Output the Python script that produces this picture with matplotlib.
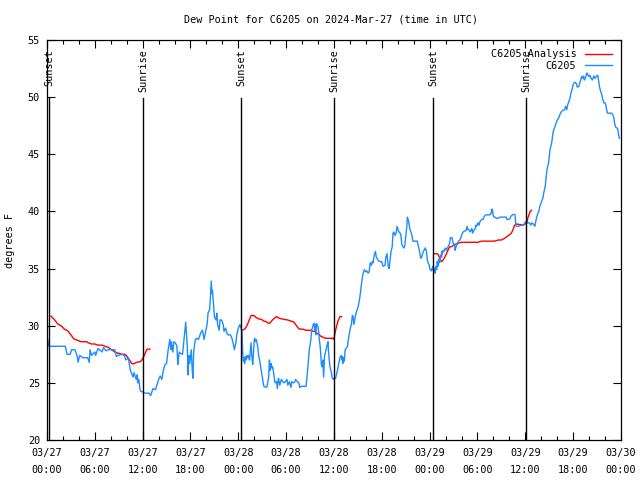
import numpy as np
import pandas as pd
import matplotlib
matplotlib.use("Agg")
import matplotlib.pyplot as plt
import matplotlib.dates as mdates

START = pd.Timestamp("2024-03-27 00:00")

# observed dew point (hours after start, deg F)
obs_hours = [0.1, 0.2, 2.3, 2.5, 2.9, 3.1, 3.5, 3.8, 3.9, 4.1, 4.5, 5.1, 5.3, 5.4, 5.6, 6.0, 6.1, 6.4, 6.6, 6.9,
             7.1, 7.4, 7.7, 8.5, 8.7, 8.9, 9.4, 9.7, 9.9, 10.2, 10.4, 10.5, 10.8, 10.9, 11.2, 11.3, 11.4, 11.5, 11.7, 12.0,
             12.3, 12.8, 13.0, 13.3, 13.6, 14.0, 14.2, 14.4, 14.6, 14.8, 15.0, 15.2, 15.3, 15.4, 15.55, 15.6, 15.8, 15.9, 16.1, 16.3,
             16.4, 16.5, 16.6, 16.7, 17.0, 17.1, 17.3, 17.4, 17.5, 17.6, 17.7, 17.8, 17.9, 18.1, 18.2, 18.3, 18.4, 18.6, 18.8, 19.0,
             19.3, 19.5, 19.65, 19.7, 19.9, 20.1, 20.2, 20.4, 20.5, 20.6, 20.7, 20.75, 20.9, 21.0, 21.2, 21.3, 21.4, 21.6, 21.7, 21.9,
             22.1, 22.2, 22.4, 22.6, 22.7, 23.0, 23.2, 23.4, 23.5, 23.7, 23.8, 24.0, 24.2, 24.46, 24.55, 24.63, 24.71, 24.79, 24.88, 25.0,
             25.1, 25.2, 25.3, 25.4, 25.55, 25.6, 25.7, 25.8, 25.9, 26.0, 26.05, 26.1, 26.25, 26.4, 26.55, 26.7, 26.8, 27.0, 27.1, 27.2,
             27.5, 27.6, 27.8, 27.9, 28.0, 28.1, 28.2, 28.3, 28.4, 28.5, 28.6, 28.8, 28.9, 29.0, 29.05, 29.2, 29.4, 29.6, 29.7, 29.9,
             30.1, 30.2, 30.4, 30.6, 30.7, 30.9, 31.1, 31.2, 31.4, 31.6, 31.7, 31.9, 32.5, 32.65, 32.8, 32.9, 33.1, 33.2, 33.4, 33.5,
             33.6, 33.65, 33.7, 33.8, 34.0, 34.1, 34.15, 34.25, 34.3, 34.4, 34.5, 34.6, 34.7, 34.75, 34.8, 35.0, 35.2, 35.25, 35.3, 35.4,
             35.5, 35.7, 35.75, 35.9, 36.0, 36.2, 36.3, 36.5, 36.6, 36.75, 36.9, 37.0, 37.05, 37.1, 37.2, 37.3, 37.4, 37.5, 37.7, 37.8,
             38.0, 38.2, 38.3, 38.4, 38.5, 38.7, 38.8, 38.9, 39.05, 39.2, 39.3, 39.4, 39.55, 39.7, 39.8, 40.0, 40.1, 40.3, 40.4, 40.55,
             40.7, 40.8, 40.9, 41.05, 41.2, 41.3, 41.4, 41.55, 41.8, 42.0, 42.1, 42.2, 42.4, 42.5, 42.65, 42.8, 42.9, 43.0, 43.15, 43.3,
             43.4, 43.5, 43.65, 43.8, 43.9, 44.0, 44.15, 44.3, 44.4, 44.5, 44.65, 44.8, 44.9, 45.0, 45.15, 45.2, 45.3, 45.4, 45.5, 45.7,
             45.8, 45.9, 46.45, 46.5, 46.7, 46.8, 46.9, 47.0, 47.2, 47.3, 47.45, 47.6, 47.7, 47.8, 47.95, 48.0, 48.2, 48.4, 48.5, 48.6,
             48.7, 48.75, 48.9, 48.95, 49.05, 49.1, 49.25, 49.4, 49.5, 49.55, 49.6, 49.7, 49.8, 49.95, 50.1, 50.3, 50.5, 50.6, 50.8, 50.95,
             51.1, 51.2, 51.3, 51.5, 51.6, 51.8, 51.95, 52.1, 52.2, 52.4, 52.55, 52.7, 52.8, 52.9, 53.1, 53.2, 53.3, 53.4, 53.6, 53.7,
             53.8, 53.9, 54.05, 54.2, 54.3, 54.4, 54.55, 54.7, 54.8, 55.0, 55.5, 55.65, 55.7, 55.8, 55.9, 55.95, 56.05, 56.2, 56.4, 56.6,
             56.8, 57.0, 57.2, 57.4, 57.6, 57.7, 57.9, 58.1, 58.2, 58.4, 58.6, 58.7, 58.75, 58.8, 58.9, 59.2, 59.5, 59.9, 60.0, 60.2,
             60.3, 60.5, 60.7, 60.8, 61.0, 61.2, 61.3, 61.5, 61.7, 61.8, 62.0, 62.2, 62.3, 62.5, 62.6, 62.7, 62.9, 63.0, 63.1, 63.3,
             63.4, 63.5, 63.7, 63.85, 64.0, 64.2, 64.35, 64.5, 64.6, 64.9, 65.05, 65.2, 65.3, 65.4, 65.6, 65.7, 65.9, 66.0, 66.2, 66.4,
             66.5, 66.7, 66.8, 66.95, 67.05, 67.2, 67.3, 67.4, 67.55, 67.7, 67.75, 67.9, 68.0, 68.1, 68.25, 68.4, 68.5, 68.6, 68.75, 68.9,
             69.0, 69.1, 69.2, 69.3, 69.45, 69.6, 69.7, 69.85, 70.0, 70.1, 70.2, 70.3, 70.8, 70.95, 71.1, 71.2, 71.3, 71.5, 71.6, 71.7,
             71.8]
obs_dewpt = [28.8, 28.2, 28.2, 27.5, 27.5, 27.9, 27.9, 27.3, 26.8, 27.4, 27.2, 27.2, 26.8, 27.9, 27.4, 27.7, 27.4, 28.0, 27.9, 27.7,
             28.1, 27.8, 27.9, 27.9, 27.3, 27.4, 27.5, 27.4, 27.0, 27.2, 26.3, 26.0, 25.5, 25.9, 25.3, 25.7, 25.0, 25.3, 24.3, 24.2,
             24.1, 24.1, 23.9, 24.5, 24.4, 25.3, 25.6, 25.3, 26.1, 26.6, 26.7, 27.9, 28.3, 28.8, 27.9, 28.6, 27.7, 28.6, 28.5, 28.2,
             26.6, 27.2, 27.7, 27.6, 27.5, 28.2, 29.6, 30.3, 29.3, 28.2, 25.7, 27.4, 26.7, 27.9, 26.3, 25.4, 27.7, 28.8, 28.9, 28.8,
             29.4, 29.6, 29.0, 28.8, 29.5, 30.2, 31.1, 31.4, 32.5, 33.9, 32.8, 33.1, 31.8, 30.8, 30.5, 31.1, 30.1, 29.6, 30.5, 30.5,
             30.1, 29.5, 29.8, 29.3, 29.2, 29.2, 28.9, 28.3, 27.9, 28.5, 29.2, 29.8, 30.1, 29.5, 27.6, 26.9, 27.2, 26.7, 27.3, 27.0,
             27.4, 27.2, 27.4, 27.0, 28.2, 28.5, 27.3, 26.6, 27.6, 28.8, 28.9, 28.6, 28.8, 28.3, 27.4, 26.9, 26.4, 25.5, 25.1, 24.7,
             24.6, 24.7, 25.5, 27.0, 26.1, 26.7, 26.3, 26.4, 26.0, 25.5, 25.0, 25.1, 24.5, 25.3, 25.4, 24.8, 25.3, 25.1, 25.0, 25.1,
             25.3, 24.8, 25.1, 24.6, 25.1, 25.0, 25.1, 25.3, 25.1, 25.0, 24.6, 24.7, 24.7, 25.8, 27.0, 27.9, 28.8, 29.6, 30.1, 30.2,
             29.6, 30.1, 29.2, 30.2, 29.9, 29.3, 28.8, 28.3, 27.9, 26.7, 26.4, 27.0, 25.5, 26.4, 27.3, 27.9, 28.5, 28.6, 27.9, 27.0,
             26.4, 25.8, 25.5, 25.3, 25.4, 25.4, 25.7, 26.3, 26.7, 27.2, 27.4, 27.0, 27.3, 26.7, 27.2, 26.9, 27.9, 28.0, 28.2, 28.8,
             29.6, 30.2, 30.9, 30.8, 30.1, 30.9, 31.2, 31.4, 31.7, 32.3, 32.8, 33.4, 34.2, 34.7, 34.9, 34.7, 34.8, 34.6, 34.7, 35.5,
             35.3, 35.6, 35.5, 36.2, 36.5, 36.0, 35.9, 35.7, 35.6, 35.6, 35.3, 35.2, 35.3, 36.0, 36.3, 35.2, 35.0, 35.5, 36.5, 36.9,
             38.1, 38.2, 37.9, 38.1, 38.7, 38.5, 38.2, 38.1, 37.9, 37.1, 36.9, 36.8, 37.1, 37.8, 38.8, 39.5, 39.3, 39.0, 38.5, 38.1,
             37.8, 37.4, 37.4, 37.2, 36.6, 36.2, 35.9, 36.0, 36.5, 36.6, 36.8, 36.5, 35.8, 35.5, 35.3, 35.0, 34.8, 35.2, 34.7, 35.0,
             34.6, 35.2, 34.9, 35.6, 35.2, 35.8, 35.5, 36.2, 36.0, 36.5, 36.3, 36.6, 36.5, 36.8, 36.6, 36.9, 37.2, 37.7, 37.7, 37.2,
             37.1, 36.6, 36.9, 37.2, 37.4, 37.5, 37.8, 38.1, 38.2, 38.3, 38.3, 38.7, 38.4, 38.4, 38.2, 38.4, 38.5, 38.1, 38.4, 38.5,
             38.8, 38.7, 39.0, 38.8, 39.1, 39.2, 39.3, 39.3, 39.5, 39.7, 39.7, 39.8, 39.8, 40.2, 40.1, 39.7, 39.5, 39.5, 39.4, 39.4,
             39.5, 39.5, 39.5, 39.5, 39.5, 39.3, 39.3, 39.4, 39.6, 39.7, 39.75, 39.7, 39.4, 38.8, 38.7, 38.7, 38.8, 38.9, 39.1, 39.0,
             39.0, 39.0, 38.8, 39.0, 38.9, 38.7, 39.1, 39.7, 40.0, 40.4, 40.8, 41.15, 41.6, 42.2, 42.9, 43.6, 44.2, 44.8, 45.4, 46.0,
             46.5, 47.0, 47.4, 47.7, 48.0, 48.2, 48.5, 48.7, 48.8, 48.9, 49.2, 48.9, 49.3, 49.5, 49.9, 50.3, 50.8, 51.1, 51.3, 51.2,
             50.9, 50.9, 51.2, 51.5, 51.8, 51.65, 51.85, 51.5, 51.7, 52.1, 52.1, 51.9, 51.8, 51.9, 51.65, 51.5, 51.65, 51.85, 51.65, 51.8,
             51.9, 51.9, 51.4, 50.9, 50.5, 50.2, 49.8, 49.5, 49.5, 49.3, 48.9, 48.6, 48.6, 48.5, 48.2, 47.7, 47.4, 47.3, 47.2, 46.7,
             46.4]

# analysis dew point, nan marks the gaps between runs
ana_hours = [0.5, 0.67, 0.92, 1.13, 1.34, 1.63, 1.92, 2.17, 2.47, 2.68, 2.89, 3.1, 3.3, 3.5, 3.93, 4.27, 4.56, 4.98, 5.19, 5.6,
             6.0, 6.4, 6.9, 7.3, 7.7, 8.1, 8.5, 8.9, 9.4, 9.8, 10.0, 10.2, 10.4, 10.6, 10.8, 11.25, 11.7, 11.9, 12.2, 12.5,
             12.6, 12.9, np.nan,
             24.46, 24.8, 25.0, 25.2, 25.4, 25.6, 25.8, 26.05, 26.25, 26.55, 26.9, 27.2, 27.5, 27.7, 27.9, 28.1, 28.35, 28.6, 28.8, 29.0,
             29.4, 29.8, 30.2, 30.6, 30.9, 31.1, 31.3, 31.5, 31.7, 32.1, 32.5, 32.95, 33.15, 33.4, 33.65, 33.9, 34.1, 34.3, 34.6, 34.9,
             35.25, 35.9, 36.0, 36.1, 36.3, 36.5, 36.75, 36.95, np.nan,
             48.6, 48.95, 49.1, 49.25, 49.5, 49.7, 49.9, 50.1, 50.3, 50.5, 50.7, 51.1, 51.55, 51.95, 52.8, 53.65, 54.05, 54.5, 56.15, 56.6,
             57.0, 57.4, 57.8, 58.25, 58.45, 58.65, 58.9, 59.7, 60.0, 60.2, 60.3, 60.5, 60.6, 60.8]
ana_dewpt = [30.85, 30.7, 30.55, 30.35, 30.15, 30.05, 29.9, 29.7, 29.6, 29.5, 29.3, 29.1, 28.9, 28.8, 28.7, 28.6, 28.6, 28.6, 28.5, 28.4,
             28.4, 28.3, 28.3, 28.2, 28.1, 27.9, 27.7, 27.6, 27.5, 27.5, 27.35, 27.15, 26.95, 26.7, 26.65, 26.8, 26.85, 27.0, 27.4, 27.9,
             27.95, 27.95, np.nan,
             29.6, 29.7, 29.9, 30.2, 30.55, 30.9, 30.9, 30.85, 30.7, 30.6, 30.55, 30.4, 30.35, 30.25, 30.2, 30.35, 30.55, 30.7, 30.8, 30.7,
             30.6, 30.55, 30.5, 30.4, 30.35, 30.2, 30.0, 29.8, 29.7, 29.7, 29.6, 29.6, 29.6, 29.5, 29.5, 29.3, 29.25, 29.1, 29.0, 28.9,
             28.9, 28.9, 28.8, 29.3, 29.9, 30.4, 30.8, 30.8, np.nan,
             36.3, 36.3, 36.2, 35.9, 35.6, 35.75, 36.0, 36.3, 36.6, 36.9, 36.9, 37.1, 37.2, 37.3, 37.3, 37.3, 37.3, 37.4, 37.4, 37.5,
             37.5, 37.65, 37.85, 38.1, 38.4, 38.8, 38.9, 38.8, 38.9, 39.0, 39.4, 39.8, 40.0, 40.1]

event_hours = [0.25, 12.04, 24.37, 36.0, 48.42, 60.08]
event_labels = ["Sunset", "Sunrise", "Sunset", "Sunrise", "Sunset", "Sunrise"]

to_time = lambda hrs: START + pd.to_timedelta(np.array(hrs, dtype=float), unit="h")

FONT = "DejaVu Sans Mono"
FS = 7.3
plt.rcParams["font.family"] = FONT
plt.rcParams["font.size"] = FS

fig = plt.figure(figsize=(6.4, 4.8), dpi=100)
ax = fig.add_axes([47 / 640, 40 / 480, 574 / 640, 400 / 480])

ax.plot(to_time(ana_hours), ana_dewpt, color="#ff0000", lw=1.0, label="C6205 Analysis")
ax.plot(to_time(obs_hours), obs_dewpt, color="#1e8cff", lw=1.0, label="C6205")

for h, lab in zip(event_hours, event_labels):
    t = START + pd.Timedelta(hours=h)
    ax.axvline(t, ymin=0, ymax=0.855, color="black", lw=1.0)
    ax.text(t, 0.978, lab, transform=ax.get_xaxis_transform(), rotation=90,
            ha="center", va="top", fontsize=FS)

ax.set_xlim(START, START + pd.Timedelta(hours=72))
ax.set_ylim(20, 55)
ax.set_yticks(np.arange(20, 56, 5))

xt = [START + pd.Timedelta(hours=h) for h in range(0, 73, 6)]
ax.set_xticks(xt)
labels = ax.set_xticklabels([t.strftime("%m/%d\n%H:%M") for t in xt])
for lab in labels:
    lab.set_linespacing(1.85)
ax.xaxis.set_minor_locator(mdates.HourLocator(byhour=range(0, 24, 2)))

ax.tick_params(which="both", direction="in", top=True, right=True, width=0.8)
ax.tick_params(which="major", length=6)
ax.tick_params(which="minor", length=3)
ax.tick_params(axis="x", pad=6)
ax.tick_params(axis="y", pad=5)
for sp in ax.spines.values():
    sp.set_linewidth(0.9)

ax.set_ylabel("degrees F")
ax.yaxis.set_label_coords(-0.055, 0.5)
fig.text(331 / 640, 1 - 20 / 480, "Dew Point for C6205 on 2024-Mar-27 (time in UTC)",
         ha="center", va="center", fontsize=FS)

ax.legend(loc="upper right", frameon=False, markerfirst=False, handlelength=2.7,
          handletextpad=0.8, labelspacing=0.15, borderaxespad=0.5, fontsize=FS)

fig.savefig("out.png", dpi=100)
